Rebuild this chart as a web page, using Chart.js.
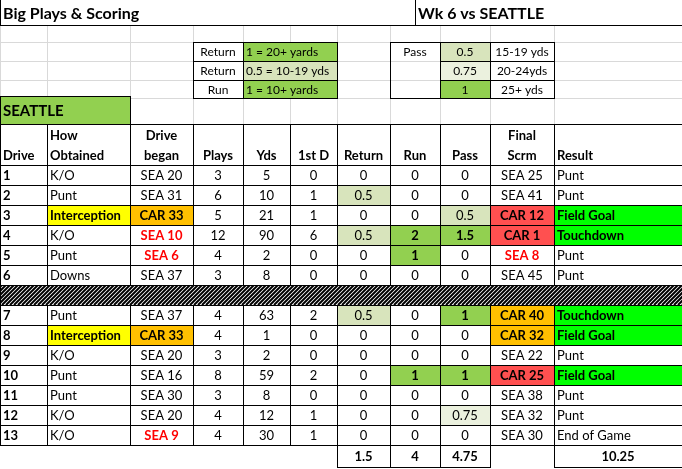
<!DOCTYPE html>
<html><head><meta charset="utf-8">
<script src="https://cdn.jsdelivr.net/npm/chart.js@4"></script>
<style>html,body{margin:0;padding:0;background:#fff;overflow:hidden}</style>
</head><body>
<canvas id="c" width="682" height="469"></canvas>
<script>
// ---- data ----
const drives = ["1","2","3","4","5","6","7","8","9","10","11","12","13"];
const howObtained = ["K/O","Punt","Interception","K/O","Punt","Downs","Punt","Interception","K/O","Punt","Punt","K/O","K/O"];
const driveBegan = ["SEA 20","SEA 31","CAR 33","SEA 10","SEA 6","SEA 37","SEA 37","CAR 33","SEA 20","SEA 16","SEA 30","SEA 20","SEA 9"];
const plays = [3,6,5,12,4,3,4,4,3,8,3,4,4];
const yds = [5,10,21,90,2,8,63,1,2,59,8,12,30];
const firstD = [0,1,1,6,0,0,2,0,0,2,0,1,1];
const ret = [0,0.5,0,0.5,0,0,0.5,0,0,0,0,0,0];
const run = [0,0,0,2,1,0,0,0,0,1,0,0,0];
const pass = [0,0,0.5,1.5,0,0,1,0,0,1,0,0.75,0];
const finalScrm = ["SEA 25","SEA 41","CAR 12","CAR 1","SEA 8","SEA 45","CAR 40","CAR 32","SEA 22","CAR 25","SEA 38","SEA 32","SEA 30"];
const result = ["Punt","Punt","Field Goal","Touchdown","Punt","Punt","Touchdown","Field Goal","Punt","Field Goal","Punt","Punt","End of Game"];
const totals = ["1.5","4","4.75","10.25"];
const headers = [["","Drive"],["How","Obtained"],["Drive","began"],["","Plays"],["","Yds"],["","1st D"],["","Return"],["","Run"],["","Pass"],["Final","Scrm"],["","Result"]];
const legendLeft = [["Return","1 = 20+ yards"],["Return","0.5 = 10-19 yds"],["Run","1 = 10+ yards"]];
const legendRight = [["0.5","15-19 yds"],["0.75","20-24yds"],["1","25+ yds"]];

// ---- layout ----
const colEdges = [0,47,130,193,243,290,337,390,440,490,554,682];
const align = ["left","left","center","center","center","center","center","center","center","center","left"];
const FONT = "Lato, 'Liberation Sans', sans-serif";
const GREEN="#92d050", LGREEN="#d8e4bc", XLGREEN="#ebf1de", ORANGE="#ffc000", RED="#ff5050", BGREEN="#00ff00", YELLOW="#ffff00";

function scoreFill(v){ if(v>=1) return GREEN; if(v>=0.75) return XLGREEN; if(v>=0.5) return LGREEN; return null; }

const tablePlugin = {
  id:'table',
  afterDraw(chart){
    const ctx = chart.ctx, xs = chart.scales.x, ys = chart.scales.y;
    const X = v=>xs.getPixelForValue(v), Y = v=>ys.getPixelForValue(v);
    function cell(x0,y0,x1,y1,opt){
      const px0=X(x0),px1=X(x1),py0=Y(y0),py1=Y(y1);
      if(opt.fill){ctx.fillStyle=opt.fill;ctx.fillRect(px0,py0,px1-px0,py1-py0);}
      if(opt.border){ctx.strokeStyle="#000";ctx.lineWidth=opt.bw||1;ctx.strokeRect(px0+0.5,py0+0.5,px1-px0,py1-py0);}
      if(opt.text!==undefined && opt.text!==""){
        ctx.fillStyle=opt.color||"#000";
        ctx.font=(opt.bold?"bold ":"")+(opt.size||13)+"px "+FONT;
        ctx.textBaseline="middle";
        const a=opt.align||"left"; ctx.textAlign=a;
        const tx = a==="left"?px0+3:a==="right"?px1-3:(px0+px1)/2;
        ctx.fillText(opt.text,tx,opt.ty!==undefined?Y(opt.ty):(py0+py1)/2+1);
      }
    }
    ctx.save();
    // excel gridlines
    ctx.strokeStyle="#d9d9d9";ctx.lineWidth=1;
    for(const e of colEdges){ctx.beginPath();ctx.moveTo(X(e)+0.5,Y(25));ctx.lineTo(X(e)+0.5,Y(124));ctx.stroke();}
    for(const r of [42,61,80,98]){ctx.beginPath();ctx.moveTo(X(0),Y(r)+0.5);ctx.lineTo(X(682),Y(r)+0.5);ctx.stroke();}
    // title row
    ctx.strokeStyle="#000";ctx.beginPath();ctx.moveTo(X(0),Y(25)+0.5);ctx.lineTo(X(682),Y(25)+0.5);ctx.stroke();
    ctx.beginPath();ctx.moveTo(X(0)+0.5,Y(0));ctx.lineTo(X(0)+0.5,Y(25));ctx.moveTo(X(415)+0.5,Y(0));ctx.lineTo(X(415)+0.5,Y(25));ctx.stroke();
    cell(0,0,415,25,{text:"Big Plays & Scoring",bold:true,size:16});
    cell(415,0,682,25,{text:"Wk 6 vs SEATTLE",bold:true,size:16,align:"left"});
    // legends
    const lr=[42,61,80,98];
    legendLeft.forEach((l,i)=>{
      cell(193,lr[i],243,lr[i+1],{text:l[0],border:true,align:"center",size:12});
      cell(243,lr[i],337,lr[i+1],{text:l[1],border:true,fill:i===1?LGREEN:GREEN,align:"left",size:12});
    });
    cell(390,42,440,98,{border:true});
    cell(390,42,440,61,{text:"Pass",align:"center",size:12});
    legendRight.forEach((l,i)=>{
      cell(440,lr[i],490,lr[i+1],{text:l[0],border:true,fill:scoreFill(parseFloat(l[0])),align:"center",size:12});
      cell(490,lr[i],554,lr[i+1],{text:l[1],border:true,align:"center",size:12});
    });
    cell(0,96,130,124,{text:"SEATTLE",fill:GREEN,border:true,bold:true,size:15});
    // header
    headers.forEach((h,c)=>{
      cell(colEdges[c],124,colEdges[c+1],165,{border:true});
      cell(colEdges[c],124,colEdges[c+1],145,{text:h[0],bold:true,align:align[c]==="left"?"left":"center"});
      cell(colEdges[c],145,colEdges[c+1],165,{text:h[1],bold:true,align:align[c]==="left"?"left":"center"});
    });
    // data rows
    drives.forEach((d,i)=>{
      const top = i<6 ? 165+20*i : 305+20*(i-6), bot=top+20;
      const began=driveBegan[i], bn=parseInt(began.split(" ")[1]);
      const fs=finalScrm[i], fn=parseInt(fs.split(" ")[1]);
      const cells=[
        {text:d,bold:true},
        {text:howObtained[i],fill:howObtained[i]==="Interception"?YELLOW:null,bold:howObtained[i]==="Interception"},
        {text:began,fill:began.startsWith("CAR")?ORANGE:null,color:(began.startsWith("SEA")&&bn<=10)?"#ff0000":"#000",bold:began.startsWith("CAR")||bn<=10},
        {text:String(plays[i])},{text:String(yds[i])},{text:String(firstD[i])},
        {text:String(ret[i]),fill:scoreFill(ret[i]),bold:ret[i]>=1},
        {text:String(run[i]),fill:scoreFill(run[i]),bold:run[i]>=1},
        {text:String(pass[i]),fill:scoreFill(pass[i]),bold:pass[i]>=1},
        {text:fs,fill:fs.startsWith("CAR")?(fn<=25?RED:ORANGE):null,color:(fs.startsWith("SEA")&&fn<=10)?"#ff0000":"#000",bold:fs.startsWith("CAR")||fn<=10},
        {text:result[i],fill:(result[i]==="Field Goal"||result[i]==="Touchdown")?BGREEN:null,bold:(result[i]==="Field Goal"||result[i]==="Touchdown")}
      ];
      cells.forEach((o,c)=>cell(colEdges[c],top,colEdges[c+1],bot,Object.assign({border:true,align:align[c]},o)));
    });
    // hatched row
    const hx0=X(0),hx1=X(682),hy0=Y(285),hy1=Y(305);
    ctx.save();ctx.beginPath();ctx.rect(hx0,hy0,hx1-hx0,hy1-hy0);ctx.clip();
    ctx.fillStyle="#fff";ctx.fillRect(hx0,hy0,hx1-hx0,hy1-hy0);
    ctx.strokeStyle="#000";ctx.lineWidth=2;
    for(let x=hx0-30;x<hx1+30;x+=4){ctx.beginPath();ctx.moveTo(x,hy1);ctx.lineTo(x+20,hy0);ctx.stroke();}
    ctx.restore();
    cell(0,285,682,305,{border:true});
    // totals
    cell(337,445,390,467,{text:totals[0],border:true,bold:true,align:"center"});
    cell(390,445,440,467,{text:totals[1],border:true,bold:true,align:"center"});
    cell(440,445,490,467,{text:totals[2],border:true,bold:true,align:"center"});
    cell(554,445,682,467,{text:totals[3],border:true,bold:true,align:"center"});
    ctx.restore();
  }
};

new Chart(document.getElementById('c'),{
  type:'scatter',
  data:{datasets:[{data:[],pointRadius:0}]},
  options:{
    responsive:false,animation:false,devicePixelRatio:1,
    layout:{padding:0},
    plugins:{legend:{display:false},tooltip:{enabled:false}},
    scales:{
      x:{type:'linear',min:0,max:682,display:false},
      y:{type:'linear',min:0,max:469,reverse:true,display:false}
    }
  },
  plugins:[tablePlugin]
});
</script>
</body></html>
